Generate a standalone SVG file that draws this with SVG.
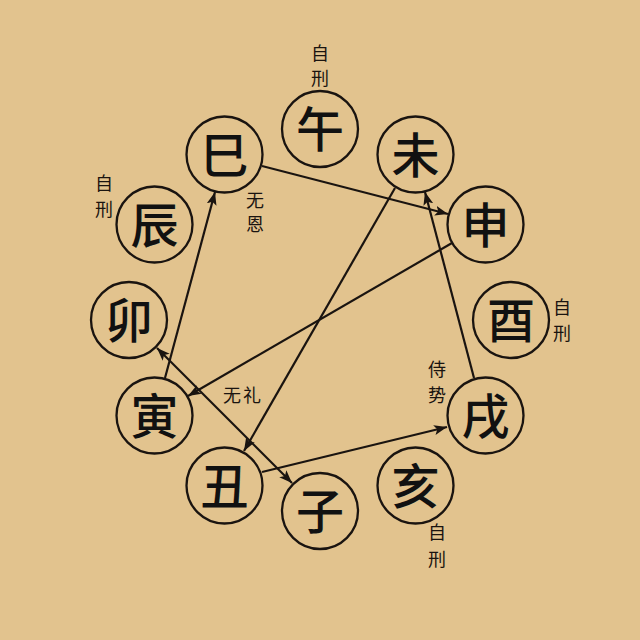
<svg xmlns="http://www.w3.org/2000/svg" width="640" height="640" viewBox="0 0 640 640">
  <style>
    .node circle { fill: none; stroke: #1a1410; stroke-width: 2.3; }
    .node text { font-family: "Noto Sans CJK SC", "Noto Sans", sans-serif; font-size: 48px; font-weight: 500; fill: #111; text-anchor: middle; }
    .lbl { font-family: "Noto Sans CJK SC", "Noto Sans", sans-serif; font-size: 18px; fill: #1a1410; text-anchor: middle; }
    .conn line { stroke: #1a1410; stroke-width: 2.2; }
  </style>
  <defs>
    <marker id="arr" viewBox="0 0 13 10" refX="13" refY="5" markerWidth="13" markerHeight="10" markerUnits="userSpaceOnUse" orient="auto-start-reverse">
      <path d="M0,0 L13,5 L0,10 L3,5 z" fill="#1a1410"/>
    </marker>
  </defs>
  <rect width="640" height="640" fill="#E2C38E"/>

  <g id="connectors" class="conn">
    <line x1="262" y1="166" x2="448" y2="214" marker-end="url(#arr)"/>
    <line x1="395" y1="188" x2="244" y2="451" marker-end="url(#arr)"/>
    <line x1="452" y1="243" x2="188" y2="396" marker-end="url(#arr)"/>
    <line x1="165" y1="378" x2="215" y2="192" marker-end="url(#arr)"/>
    <line x1="157" y1="348" x2="292" y2="483" marker-start="url(#arr)" marker-end="url(#arr)"/>
    <line x1="262" y1="472" x2="447" y2="427" marker-end="url(#arr)"/>
    <line x1="474" y1="378" x2="425" y2="192" marker-end="url(#arr)"/>
  </g>

  <g id="node-wu" class="node"><circle cx="320" cy="129" r="38"/><text x="320" y="147">午</text></g>
  <g id="node-wei" class="node"><circle cx="415.5" cy="154.5" r="38"/><text x="415.5" y="172.5">未</text></g>
  <g id="node-shen" class="node"><circle cx="485.5" cy="224.5" r="38"/><text x="485.5" y="242.5">申</text></g>
  <g id="node-you" class="node"><circle cx="511" cy="320" r="38"/><text x="511" y="338">酉</text></g>
  <g id="node-xu" class="node"><circle cx="485.5" cy="415.5" r="38"/><text x="485.5" y="433.5">戌</text></g>
  <g id="node-hai" class="node"><circle cx="415.5" cy="485.5" r="38"/><text x="415.5" y="503.5">亥</text></g>
  <g id="node-zi" class="node"><circle cx="320" cy="511" r="38"/><text x="320" y="529">子</text></g>
  <g id="node-chou" class="node"><circle cx="224.5" cy="485.5" r="38"/><text x="224.5" y="503.5">丑</text></g>
  <g id="node-yin" class="node"><circle cx="154.5" cy="415.5" r="38"/><text x="154.5" y="433.5">寅</text></g>
  <g id="node-mao" class="node"><circle cx="129" cy="320" r="38"/><text x="129" y="338">卯</text></g>
  <g id="node-chen" class="node"><circle cx="154.5" cy="224.5" r="38"/><text x="154.5" y="242.5">辰</text></g>
  <g id="node-si" class="node"><circle cx="224.5" cy="154.5" r="38"/><text x="224.5" y="172.5">巳</text></g>

  <g id="labels">
    <text class="lbl" x="320" y="60">自</text>
    <text class="lbl" x="320" y="85">刑</text>
    <text class="lbl" x="255" y="207">无</text>
    <text class="lbl" x="255" y="231">恩</text>
    <text class="lbl" x="104" y="190">自</text>
    <text class="lbl" x="104" y="216">刑</text>
    <text class="lbl" x="562" y="314">自</text>
    <text class="lbl" x="562" y="340">刑</text>
    <text class="lbl" x="437" y="376">侍</text>
    <text class="lbl" x="437" y="402">势</text>
    <text class="lbl" x="243" y="402" letter-spacing="2">无礼</text>
    <text class="lbl" x="437" y="539">自</text>
    <text class="lbl" x="437" y="566">刑</text>
  </g>
</svg>
